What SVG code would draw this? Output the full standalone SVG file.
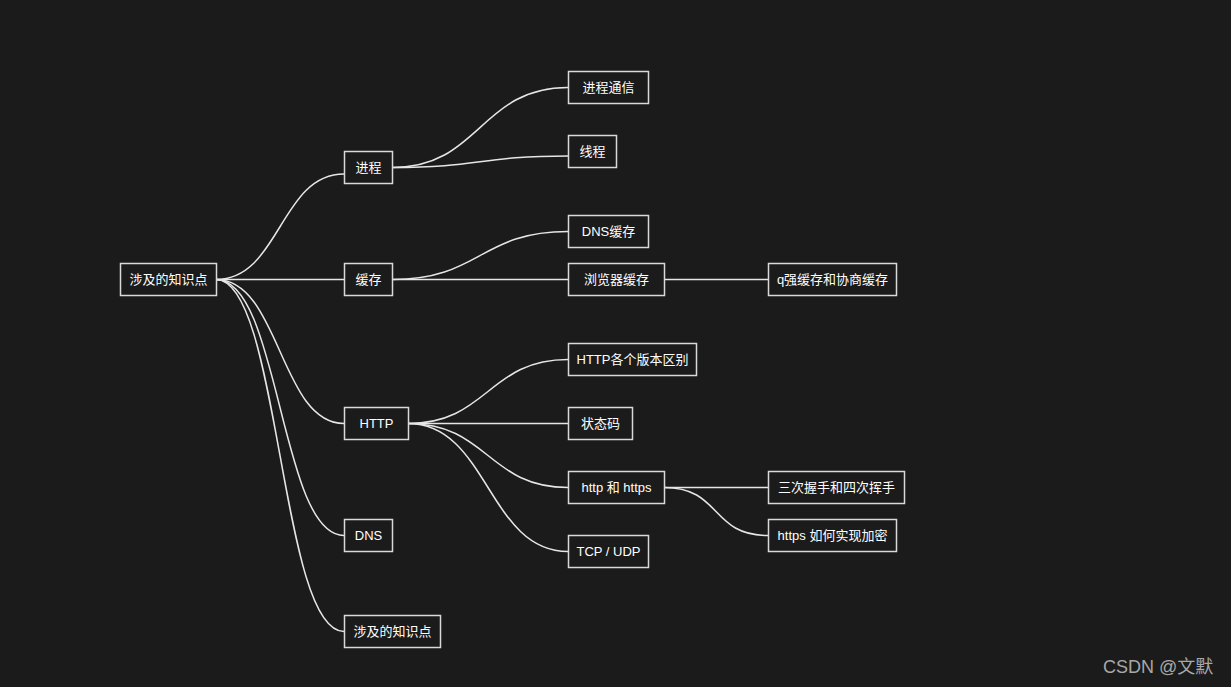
<svg xmlns="http://www.w3.org/2000/svg" width="1231" height="687" viewBox="0 0 1231 687">
<style>
.bg{fill:#1b1b1b}
.node rect{fill:#1b1b1b;stroke:#d9d9d9;stroke-width:1.5}
.node text{fill:#ffffff;font-family:"Liberation Sans","Noto Sans CJK SC",sans-serif;font-size:13px;text-anchor:middle}
.links path{fill:none;stroke:#e6e6e6;stroke-width:1.5}
.wm{fill:#a8a8a8;font-family:"Liberation Sans","Noto Sans CJK SC",sans-serif;font-size:18px}
</style>
<rect class="bg" x="0" y="0" width="1231" height="687"/>
<g id="connectors" class="links">
<path d="M216,279.5 C280,279.5 280,174 344,174"/>
<path d="M216,279.5 L344,279.5"/>
<path d="M216,279.5 C280,279.5 280,423.5 344,423.5"/>
<path d="M216,279.5 C280,279.5 280,535.5 344,535.5"/>
<path d="M216,279.5 C280,279.5 280,631.5 344,631.5"/>
<path d="M392.5,167.5 C480,167.5 480,87.5 568,87.5"/>
<path d="M392.5,167.5 C480,167.5 480,156 568,156"/>
<path d="M392.5,279.5 C480,279.5 480,231.5 568,231.5"/>
<path d="M392.5,279.5 L568,279.5"/>
<path d="M664,279.5 L768,279.5"/>
<path d="M408,423.5 C488,423.5 488,359.5 568,359.5"/>
<path d="M408,423.5 L568,423.5"/>
<path d="M408,423.5 C488,423.5 488,487.5 568,487.5"/>
<path d="M408,423.5 C488,423.5 488,551.5 568,551.5"/>
<path d="M664,487.5 L768,487.5"/>
<path d="M664,487.5 C722,487.5 710,535.5 768,535.5"/>
</g>
<g id="root" class="node"><rect x="120.5" y="263.5" width="96" height="32"/><text x="168.5" y="284">涉及的知识点</text></g>
<g id="n-jincheng" class="node"><rect x="344.5" y="151.5" width="48" height="32"/><text x="368.5" y="172">进程</text></g>
<g id="n-huancun" class="node"><rect x="344.5" y="263.5" width="48" height="32"/><text x="368.5" y="284">缓存</text></g>
<g id="n-http" class="node"><rect x="344.5" y="407.5" width="64" height="32"/><text x="376.5" y="428">HTTP</text></g>
<g id="n-dns" class="node"><rect x="344.5" y="519.5" width="48" height="32"/><text x="368.5" y="540">DNS</text></g>
<g id="n-zhishi" class="node"><rect x="344.5" y="615.5" width="96" height="32"/><text x="392.5" y="636">涉及的知识点</text></g>
<g id="n-jctx" class="node"><rect x="568.5" y="71.5" width="80" height="32"/><text x="608.5" y="92">进程通信</text></g>
<g id="n-xiancheng" class="node"><rect x="568.5" y="135.5" width="48" height="32"/><text x="592.5" y="156">线程</text></g>
<g id="n-dnshc" class="node"><rect x="568.5" y="215.5" width="80" height="32"/><text x="608.5" y="236">DNS缓存</text></g>
<g id="n-llqhc" class="node"><rect x="568.5" y="263.5" width="96" height="32"/><text x="616.5" y="284">浏览器缓存</text></g>
<g id="n-qhc" class="node"><rect x="768.5" y="263.5" width="128" height="32"/><text x="832.5" y="284">q强缓存和协商缓存</text></g>
<g id="n-httpver" class="node"><rect x="568.5" y="343.5" width="128" height="32"/><text x="632.5" y="364">HTTP各个版本区别</text></g>
<g id="n-status" class="node"><rect x="568.5" y="407.5" width="64" height="32"/><text x="600.5" y="428">状态码</text></g>
<g id="n-https" class="node"><rect x="568.5" y="471.5" width="96" height="32"/><text x="616.5" y="492">http 和 https</text></g>
<g id="n-tcp" class="node"><rect x="568.5" y="535.5" width="80" height="32"/><text x="608.5" y="556">TCP / UDP</text></g>
<g id="n-woshou" class="node"><rect x="768.5" y="471.5" width="136" height="32"/><text x="836.5" y="492">三次握手和四次挥手</text></g>
<g id="n-jiami" class="node"><rect x="768.5" y="519.5" width="128" height="32"/><text x="832.5" y="540">https 如何实现加密</text></g>
<text class="wm" x="1103" y="673">CSDN @文默</text>
</svg>
